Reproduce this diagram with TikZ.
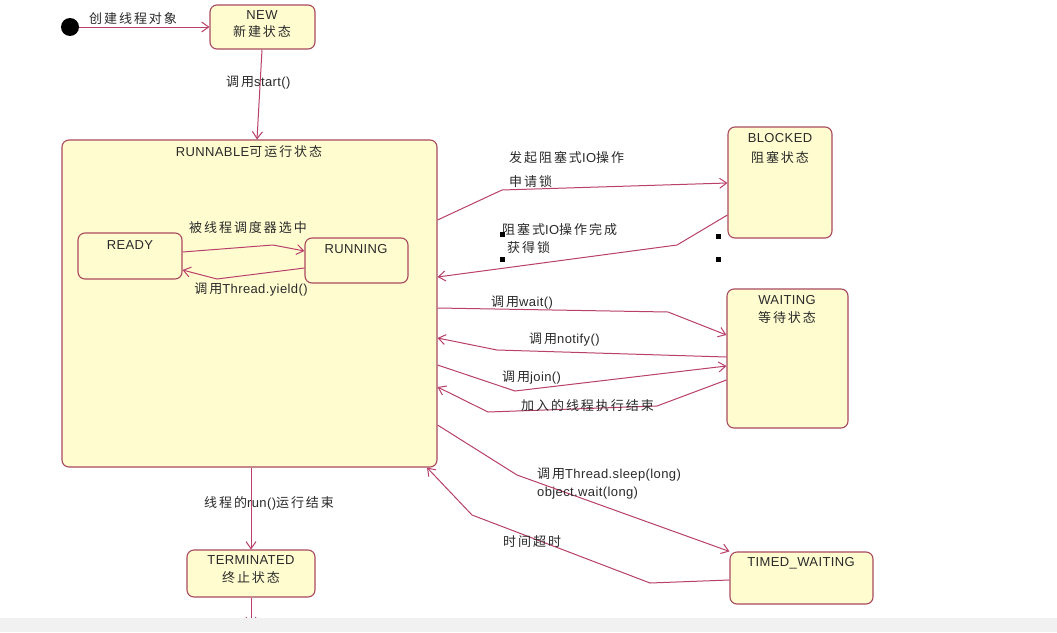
\documentclass[tikz,border=0pt]{standalone}
\usepackage{fontspec}
\setmainfont{Liberation Sans}[LetterSpace=3]
\newfontfamily\cjkf[LetterSpace=15]{Noto Sans CJK SC}
\newcommand\zh[1]{{\cjkf #1}}
\usetikzlibrary{arrows.meta,calc}
\definecolor{edgecol}{HTML}{B8406A}
\definecolor{boxline}{HTML}{A8485E}
\definecolor{boxfill}{HTML}{FFFDD0}
\definecolor{txtcol}{HTML}{2A2A2A}
\definecolor{bandcol}{HTML}{F1F1F1}
\tikzset{
  state/.style={draw=boxline, fill=boxfill, line width=1.1pt, rounded corners=7pt, inner sep=0pt},
  conn/.style={draw=edgecol, line width=1pt, -{Straight Barb[length=7pt,width=10pt,line width=1pt]}},
  lbl/.style={text=txtcol, inner sep=0pt, font=\fontsize{13}{15}\selectfont},
  ttl/.style={text=txtcol, inner sep=0pt, font=\fontsize{13}{15}\selectfont},
  handle/.style={fill=black, minimum size=5pt, inner sep=0pt}
}
\begin{document}
\begin{tikzpicture}[x=1pt,y=-1pt]
\useasboundingbox (0,0) rectangle (1057,632);
\fill[white] (0,0) rectangle (1057,632);

% states
\node[circle, fill=black, minimum size=18pt, inner sep=0pt] (start) at (70,27) {};
\node[state, minimum width=105pt, minimum height=44pt] (new) at (262.5,27) {};
\node[state, minimum width=375pt, minimum height=327pt] (runnable) at (249.5,303.5) {};
\node[state, minimum width=104pt, minimum height=46pt] (ready) at (130,256) {};
\node[state, minimum width=103pt, minimum height=45pt] (running) at (356.5,260.5) {};
\node[state, minimum width=104pt, minimum height=111pt] (blocked) at (780,182.5) {};
\node[state, minimum width=121pt, minimum height=139pt] (waiting) at (787.5,358.5) {};
\node[state, minimum width=143pt, minimum height=52pt] (timed) at (801.5,578) {};
\node[state, minimum width=128pt, minimum height=47pt] (term) at (251,573.5) {};

% state texts
\node[ttl] (newA) at (262,15) {NEW};
\node[ttl] (newB) at (262,32) {\zh{新建状态}};
\node[ttl] (runT) at (249,152) {RUNNABLE\zh{可运行状态}};
\node[ttl] (readyT) at (130,245) {READY};
\node[ttl] (runningT) at (356,249) {RUNNING};
\node[ttl] (blockA) at (780,138) {BLOCKED};
\node[ttl] (blockB) at (780,157) {\zh{阻塞状态}};
\node[ttl] (waitA) at (787,300) {WAITING};
\node[ttl] (waitB) at (787,318) {\zh{等待状态}};
\node[ttl] (timedT) at (801,563) {TIMED\_WAITING};
\node[ttl] (termA) at (251,560) {TERMINATED};
\node[ttl] (termB) at (251,578) {\zh{终止状态}};

% connectors
\draw[conn] (start) -- (new.west);
\draw[conn] (new.south -| 262,0) -- (runnable.north -| 257,0);
\draw[conn] (ready.east |- 0,252) -- (273,245) -- (running.west |- 0,251);
\draw[conn] (running.west |- 0,268) -- (217,279) -- (ready.east |- 0,270);
\draw[conn] (runnable.east |- 0,220) -- (502,190) -- (blocked.west |- 0,183);
\draw[conn] (blocked.west |- 0,215) -- (677,245) -- (runnable.east |- 0,277);
\draw[conn] (runnable.east |- 0,308) -- (668,312) -- (waiting.west |- 0,335);
\draw[conn] (waiting.west |- 0,357) -- (497,350) -- (runnable.east |- 0,338);
\draw[conn] (runnable.east |- 0,365) -- (515,391) -- (waiting.west |- 0,366);
\draw[conn] (waiting.west |- 0,380) -- (657,406) -- (488,412) -- (runnable.east |- 0,387);
\draw[conn] (runnable.east |- 0,425) -- (517,475) -- (timed.north west);
\draw[conn] (timed.west |- 0,580) -- (650,583) -- (472,515) -- (runnable.south -| 427,0);
\draw[conn] (term.north |- runnable.south) -- (term.north);
\coordinate (termOut) at (251,625);
\draw[conn] (term.south) -- (termOut);

% labels
\node[lbl, anchor=west] (l1) at (89,19) {\zh{创建线程对象}};
\node[lbl, anchor=west] (l2) at (226,83) {\zh{调用}start()};
\node[lbl] (l3) at (248,228) {\zh{被线程调度器选中}};
\node[lbl] (l4) at (251,290) {\zh{调用}Thread.yield()};
\node[lbl, anchor=west] (l5) at (509,158) {\zh{发起阻塞式}IO\zh{操作}};
\node[lbl, anchor=west] (l6) at (509,182) {\zh{申请锁}};
\node[lbl, anchor=west] (l7) at (502,230) {\zh{阻塞式}IO\zh{操作完成}};
\node[lbl, anchor=west] (l8) at (507,248) {\zh{获得锁}};
\node[lbl, anchor=west] (l9) at (491,303) {\zh{调用}wait()};
\node[lbl, anchor=west] (l10) at (529,340) {\zh{调用}notify()};
\node[lbl, anchor=west] (l11) at (502,378) {\zh{调用}join()};
\node[lbl, anchor=west] (l12) at (521,406) {\zh{加入的线程执行结束}};
\node[lbl, anchor=west] (l13) at (537,475) {\zh{调用}Thread.sleep(long)};
\node[lbl, anchor=west] (l14) at (537,493) {object.wait(long)};
\node[lbl, anchor=west] (l15) at (503,542) {\zh{时间超时}};
\node[lbl, anchor=west] (l16) at (204,503) {\zh{线程的}run()\zh{运行结束}};

% selection handles
\node[handle] (h1) at (502,234) {};
\node[handle] (h2) at (502,259) {};
\node[handle] (h3) at (718,236) {};
\node[handle] (h4) at (718,259) {};

% bottom band
\fill[bandcol] (0,618) rectangle (1057,632);
\end{tikzpicture}
\end{document}
